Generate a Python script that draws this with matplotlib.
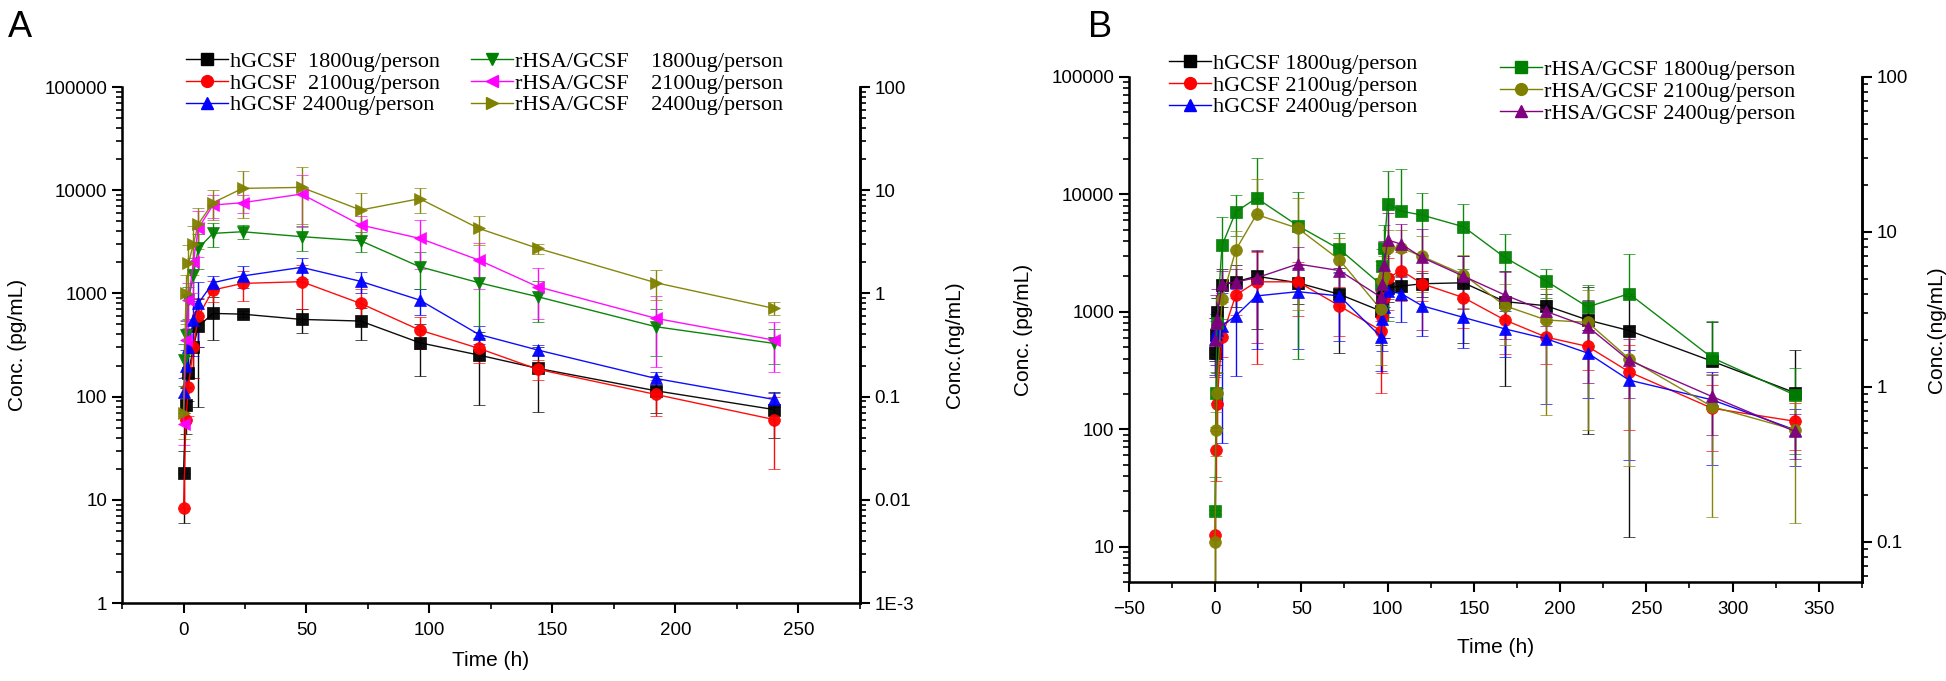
import numpy as np
import matplotlib.pyplot as plt
from matplotlib.ticker import FixedLocator, FixedFormatter, LogLocator, NullFormatter, MultipleLocator
from matplotlib.lines import Line2D

plt.rcParams['font.family'] = ['Liberation Sans', 'DejaVu Sans']

# ---- panel A: single dose ----
time_a = [0, 1, 2, 4, 6, 12, 24, 48, 72, 96, 120, 144, 192, 240]
a_h1800 = [18, 83, 170, 300, 480, 640, 630, 560, 540, 333, 253, 188, 114, 75]
a_h1800_sd = [12, 40, 80, 150, 400, 290, 40, 150, 190, 175, 170, 117, 45, 35]
a_h2100 = [8.3, 60, 125, 300, 600, 1080, 1250, 1300, 800, 442, 294, 184, 105, 60]
a_h2100_sd = [10, 60, 60, 150, 300, 250, 400, 600, 300, 150, 80, 40, 40, 40]
a_h2400 = [110, 200, 300, 550, 800, 1270, 1475, 1790, 1310, 863, 401, 283, 150, 94]
a_h2400_sd = [40, 80, 150, 300, 500, 200, 350, 400, 300, 250, 80, 30, 25, 15]
a_r1800 = [226, 395, 860, 1500, 2730, 3820, 3960, 3550, 3240, 1815, 1271, 929, 476, 328]
a_r1800_sd = [100, 150, 300, 700, 1000, 1000, 600, 1000, 700, 700, 900, 400, 230, 120]
a_r2100 = [54, 354, 863, 2000, 4270, 7190, 7570, 9180, 4600, 3418, 2108, 1161, 574, 353]
a_r2100_sd = [20, 200, 400, 1000, 2000, 1800, 1500, 4800, 1000, 1700, 1000, 600, 380, 180]
a_r2400 = [69, 1000, 1950, 3000, 4700, 7570, 10420, 10660, 6430, 8280, 4270, 2735, 1270, 717]
a_r2400_sd = [30, 500, 1000, 1500, 2000, 2400, 5000, 6000, 3000, 2200, 1300, 300, 400, 100]

labels_a = ['hGCSF  1800ug/person', 'hGCSF  2100ug/person', 'hGCSF 2400ug/person',
            'rHSA/GCSF    1800ug/person', 'rHSA/GCSF    2100ug/person', 'rHSA/GCSF    2400ug/person']

# ---- panel B: repeated dose ----
time_b = [0, 0.5, 1, 4, 12, 24, 48, 72, 96, 97, 98, 100, 108, 120, 144, 168, 192, 216, 240, 288, 336]
b_h1800 = [442, 640, 1000, 1700, 1800, 2010, 1766, 1410, 1018, 1300, 1500, 1600, 1656, 1733, 1767, 1222, 1125, 851, 692, 380, 205]
b_h1800_sd = [60, 200, 300, 600, 700, 1300, 600, 965, 500, 400, 400, 400, 400, 400, 1220, 990, 300, 760, 680, 444, 270]
b_h2100 = [12.5, 66.5, 163, 615, 1390, 1800, 1800, 1125, 692, 900, 1300, 1945, 2245, 1733, 1321, 851, 608, 507, 308, 151, 117]
b_h2100_sd = [8, 30, 60, 200, 450, 1440, 875, 500, 490, 600, 700, 900, 1000, 500, 600, 410, 250, 190, 209, 86, 50]
b_h2400 = [589, 650, 700, 762, 925, 1365, 1484, 1365, 615, 867, 1100, 1503, 1426, 1125, 895, 715, 589, 445, 262, 178, 99]
b_h2400_sd = [300, 300, 300, 685, 640, 880, 1000, 800, 300, 400, 500, 600, 600, 500, 400, 300, 426, 261, 207, 128, 50]
b_r1800 = [20, 205, 800, 3670, 7100, 9300, 5400, 3420, 1710, 2440, 3480, 8340, 7190, 6660, 5300, 2900, 1825, 1100, 1426, 407, 196]
b_r1800_sd = [19, 100, 500, 2800, 2700, 11300, 5000, 1300, 1000, 1000, 2000, 7500, 9200, 3600, 3000, 1700, 510, 590, 1700, 430, 135]
b_r2100 = [10.9, 99, 202, 1280, 3370, 6740, 5140, 2780, 1052, 1825, 2000, 3480, 3500, 2964, 2075, 1125, 851, 813, 399, 156, 99]
b_r2100_sd = [8, 40, 100, 600, 1500, 6900, 4100, 1500, 700, 900, 1000, 1500, 1500, 1500, 1000, 600, 720, 714, 350, 138, 83]
b_r2400 = [577, 802, 867, 1710, 1800, 1945, 2553, 2245, 1336, 1710, 2500, 4090, 3765, 2900, 2010, 1390, 1006, 748, 386, 190, 96]
b_r2400_sd = [300, 600, 700, 500, 500, 1400, 980, 800, 500, 800, 1500, 2800, 1800, 2200, 950, 800, 250, 500, 200, 100, 40]

labels_b = ['hGCSF 1800ug/person', 'hGCSF 2100ug/person', 'hGCSF 2400ug/person',
            'rHSA/GCSF 1800ug/person', 'rHSA/GCSF 2100ug/person', 'rHSA/GCSF 2400ug/person']

colors_a = ['black', '#FF0000', '#0000FF', '#008000', '#FF00FF', '#808000']
markers_a = ['s', 'o', '^', 'v', '<', '>']
colors_b = ['black', '#FF0000', '#0000FF', '#008000', '#808000', '#800080']
markers_b = ['s', 'o', '^', 's', 'o', '^']

legend_font = {'family': 'Liberation Serif', 'size': 16}
leg_kw = dict(loc='upper left', frameon=False, prop=legend_font, handlelength=1.9,
              handletextpad=0.1, labelspacing=0.06, borderpad=0, borderaxespad=0)


def draw_series(ax, t, y, sd, color, marker):
    y = np.array(y, dtype=float)
    sd = np.array(sd, dtype=float)
    # lower bar dropped when it would go below zero (log axis)
    low = np.where(y - sd > 0, sd, 0)
    ax.errorbar(t, y, yerr=[low, sd], color=color, marker=marker, markersize=8.5,
                markeredgewidth=0.5, lw=1, elinewidth=1, capsize=4, capthick=1, alpha=0.95)


def style_axes(ax, ax2, ylim, y2lim, y2ticks, y2labels, xlim, xticks):
    ax.set_yscale('log')
    ax.set_ylim(*ylim)
    ax.set_xlim(*xlim)
    ax.xaxis.set_major_locator(FixedLocator(xticks))
    ax.xaxis.set_minor_locator(MultipleLocator(25))
    lt = [1, 10, 100, 1000, 10000, 100000]
    ax.yaxis.set_major_locator(FixedLocator(lt))
    ax.yaxis.set_major_formatter(FixedFormatter([str(v) for v in lt]))
    ax.yaxis.set_minor_locator(LogLocator(base=10, subs=np.arange(2, 10)))
    ax.yaxis.set_minor_formatter(NullFormatter())
    ax.spines['top'].set_visible(False)
    for s in ['left', 'bottom', 'right']:
        ax.spines[s].set_linewidth(1.8)
    ax.tick_params(which='major', direction='out', length=7, width=1.5, labelsize=13.5)
    ax.tick_params(which='minor', direction='out', length=4, width=1.2)
    ax.tick_params(axis='x', pad=7)

    ax2.set_yscale('log')
    ax2.set_ylim(*y2lim)
    ax2.yaxis.set_major_locator(FixedLocator(y2ticks))
    ax2.yaxis.set_major_formatter(FixedFormatter(y2labels))
    ax2.yaxis.set_minor_locator(LogLocator(base=10, subs=np.arange(2, 10)))
    ax2.yaxis.set_minor_formatter(NullFormatter())
    ax2.spines['top'].set_visible(False)
    ax2.spines['right'].set_linewidth(1.8)
    ax2.tick_params(which='major', direction='out', length=7, width=1.5, labelsize=13.5)
    ax2.tick_params(which='minor', direction='out', length=4, width=1.2)


fig = plt.figure(figsize=(19.46, 6.81), dpi=100)

# ---------- A ----------
axA = fig.add_axes([0.0627, 0.1145, 0.3792, 0.7577])
series_a = [(a_h1800, a_h1800_sd), (a_h2100, a_h2100_sd), (a_h2400, a_h2400_sd),
            (a_r1800, a_r1800_sd), (a_r2100, a_r2100_sd), (a_r2400, a_r2400_sd)]
for (y, sd), c, m in zip(series_a, colors_a, markers_a):
    draw_series(axA, time_a, y, sd, c, m)
axA2 = axA.twinx()
style_axes(axA, axA2, (1, 1e5), (1e-3, 100), [1e-3, 0.01, 0.1, 1, 10, 100],
           ['1E-3', '0.01', '0.1', '1', '10', '100'], (-25, 275), [0, 50, 100, 150, 200, 250])
axA.set_xlabel('Time (h)', fontsize=15, labelpad=8)
axA.set_ylabel('Conc. (pg/mL)', fontsize=15, labelpad=13)
axA2.set_ylabel('Conc.(ng/mL)', fontsize=15, labelpad=22)

handles_a = [Line2D([], [], color=c, marker=m, markersize=8.5, lw=1) for c, m in zip(colors_a, markers_a)]
fig.legend(handles_a[:3], labels_a[:3], bbox_to_anchor=(0.0956, 0.925), **leg_kw)
fig.legend(handles_a[3:], labels_a[3:], bbox_to_anchor=(0.242, 0.925), **leg_kw)

# ---------- B ----------
axB = fig.add_axes([0.5801, 0.1454, 0.3767, 0.7416])
series_b = [(b_h1800, b_h1800_sd), (b_h2100, b_h2100_sd), (b_h2400, b_h2400_sd),
            (b_r1800, b_r1800_sd), (b_r2100, b_r2100_sd), (b_r2400, b_r2400_sd)]
for (y, sd), c, m in zip(series_b, colors_b, markers_b):
    draw_series(axB, time_b, y, sd, c, m)
axB2 = axB.twinx()
style_axes(axB, axB2, (5, 1e5), (0.055, 100), [0.1, 1, 10, 100],
           ['0.1', '1', '10', '100'], (-50, 375), [-50, 0, 50, 100, 150, 200, 250, 300, 350])
axB.set_xlabel('Time (h)', fontsize=15, labelpad=14)
axB.set_ylabel('Conc. (pg/mL)', fontsize=15, labelpad=13)
axB2.set_ylabel('Conc.(ng/mL)', fontsize=15, labelpad=14)

handles_b = [Line2D([], [], color=c, marker=m, markersize=8.5, lw=1) for c, m in zip(colors_b, markers_b)]
fig.legend(handles_b[:3], labels_b[:3], bbox_to_anchor=(0.6007, 0.922), **leg_kw)
fig.legend(handles_b[3:], labels_b[3:], bbox_to_anchor=(0.7708, 0.913), **leg_kw)

fig.text(0.004, 0.985, 'A', fontsize=26, va='top', ha='left')
fig.text(0.559, 0.985, 'B', fontsize=26, va='top', ha='left')

fig.savefig('out.png', dpi=100)
